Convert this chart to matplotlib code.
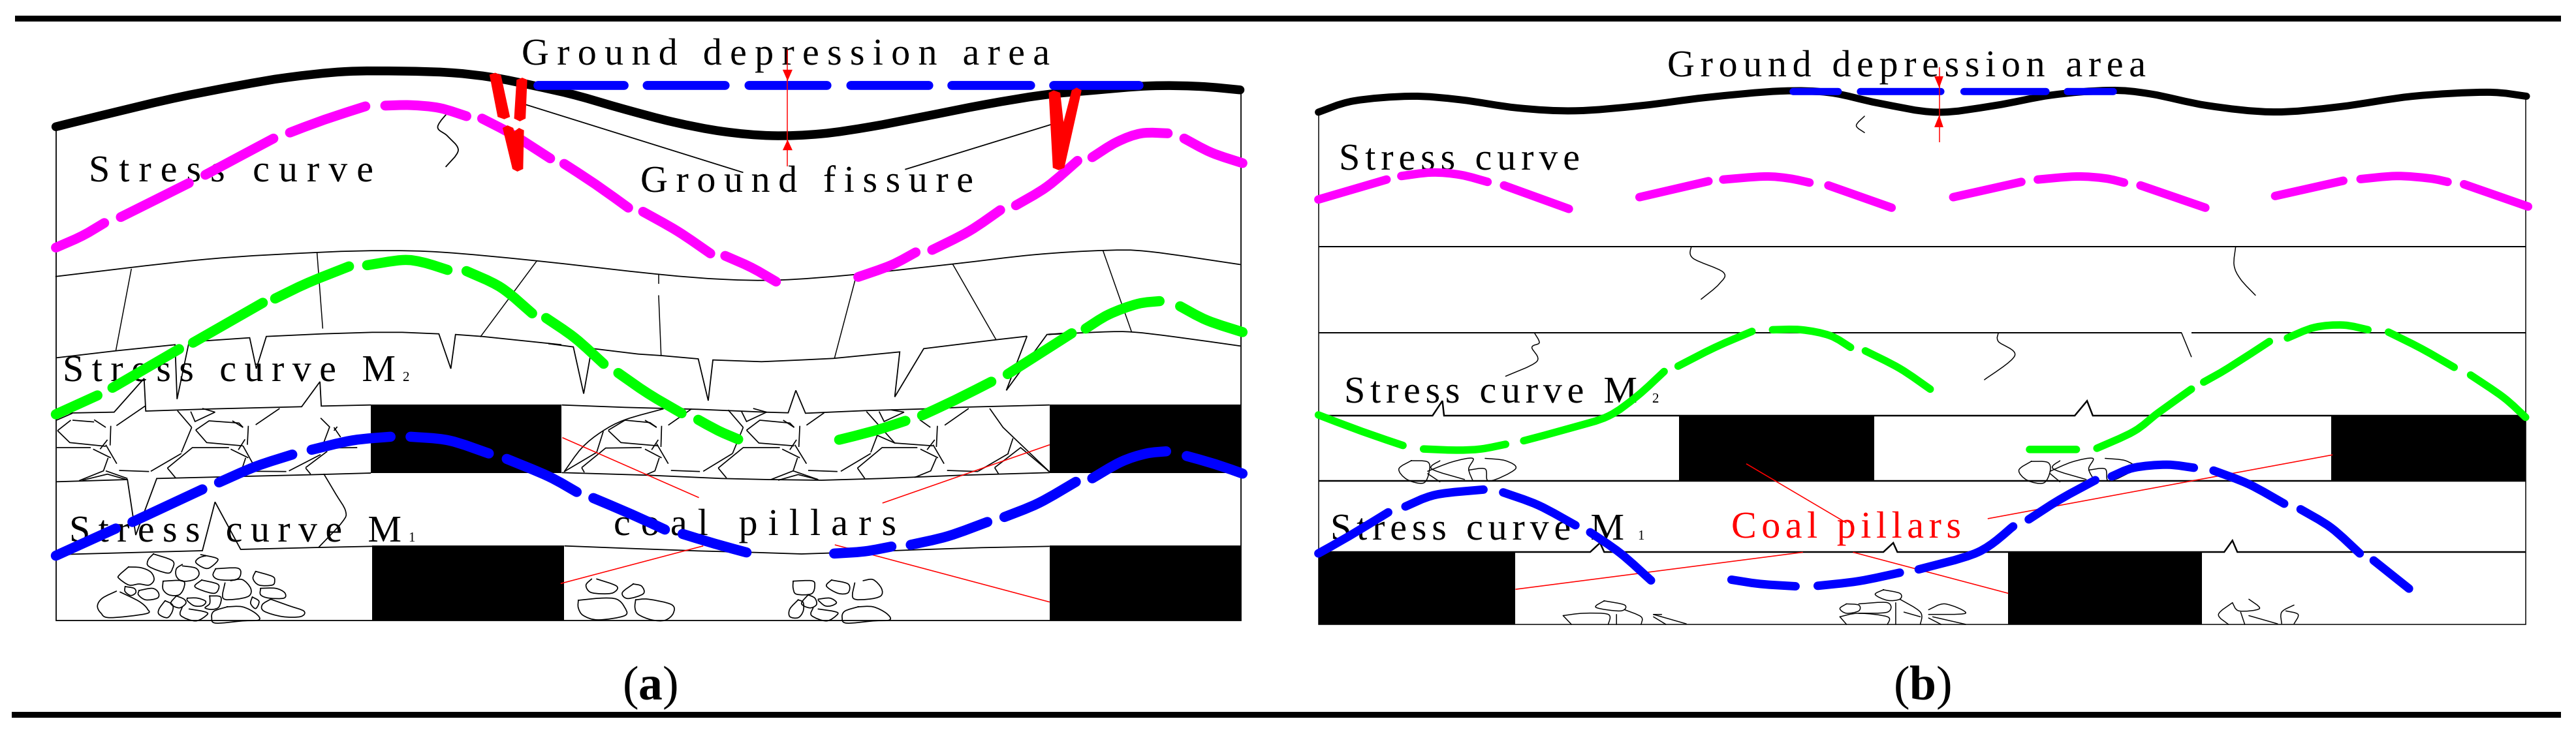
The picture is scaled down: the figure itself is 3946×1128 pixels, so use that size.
#!/usr/bin/env python3
"""Redraw of the two panel ground fissure / stress curve sketch."""

import matplotlib

matplotlib.use("Agg")
import matplotlib.font_manager as fm
import matplotlib.patheffects as pe
import matplotlib.pyplot as plt
import numpy as np
from matplotlib.ft2font import LoadFlags
from matplotlib.patches import PathPatch, Rectangle
from matplotlib.path import Path

# traced outlines are kept in the coordinates of the crop they were read from
# frame = (x origin, y origin, x scale, y scale)
TOP_A = (0, 0, 1.258, 1 / 2.78)
LOW_A = (0, 564, 1.258, 1 / 2.78)
TOP_B = (1973, 0, 1.258, 1 / 2.78)
LOW_B = (1973, 564, 1.258, 1 / 2.78)
ROCK_L = (60, 500, 1 / 1.96, 1 / 3)
ROCK_R = (840, 500, 1 / 1.96, 1 / 3)

BLACK = "#000000"
RED = "#ff0000"
BLUE = "#0000ff"
GREEN = "#00ff00"
MAGENTA = "#ff00ff"
SERIF = "Liberation Serif"

# ---- panel a ----
a_ground = [(68, 540), (120, 495), (210, 420), (290, 365), (350, 330), (420, 305), (490, 303), (550, 310),
            (600, 330), (650, 365), (700, 405), (760, 465), (820, 520), (880, 560), (940, 578), (1000, 570),
            (1060, 540), (1120, 500), (1200, 445), (1270, 405), (1330, 385), (1400, 366), (1460, 368), (1510, 383)]
a_depression = [[(655, 364), (760, 364)], [(788, 364), (883, 364)], [(912, 364), (1007, 364)],
                [(1036, 364), (1131, 364)], [(1159, 364), (1255, 364)], [(1283, 364), (1387, 364)]]
a_fissures = [
    [(596, 318), (603, 310), (610, 320), (621, 498), (614, 508), (606, 498)],
    [(629, 340), (636, 331), (642, 340), (640, 505), (633, 517), (626, 505)],
    [(612, 545), (618, 534), (625, 545), (626, 560), (632, 545), (638, 555), (637, 720), (630, 731), (624, 720)],
    [(1277, 395), (1283, 385), (1291, 395), (1295, 520), (1305, 385), (1311, 373), (1317, 385), (1296, 715),
     (1289, 725), (1282, 715)],
]
a_arrow_line = [(959, 210), (959, 708)]
a_arrow_heads = [[(953, 297), (965, 297), (959, 345)], [(959, 595), (953, 640), (965, 640)]]
a_frame = [(68, 555), (68, 2645), (1511, 2645), (1511, 400)]
a_leaders = [[(635, 440), (905, 735)], [(1285, 525), (1102, 722)]]
a_top_crack = [(548, 468), (533, 540), (545, 580), (558, 640), (543, 710)]
a_layer1 = [(68, 1178), (250, 1105), (390, 1075), (470, 1068), (540, 1075), (650, 1110), (800, 1168), (880, 1190),
            (950, 1193), (1040, 1170), (1160, 1125), (1260, 1085), (1345, 1067), (1400, 1072), (1510, 1127)]
a_layer1_cracks = [[(160, 1145), (141, 1495)], [(386, 1075), (393, 1400)], [(654, 1110), (585, 1435)],
                   [(802, 1168), (802, 1210)], [(802, 1258), (805, 1515)], [(1043, 1170), (1016, 1528)],
                   [(1160, 1125), (1213, 1448)], [(1343, 1067), (1378, 1415)]]
a_layer2_end = [(1277, 1425), (1345, 1414), (1380, 1415), (1430, 1435), (1510, 1474)]

a_left_seams = [
    [(52, 145), (230, 113), (408, 85), (414, 335), (450, 72), (632, 53), (652, 195), (682, 47), (850, 35), (1000, 28),
     (1090, 28), (1200, 35), (1236, 195), (1250, 38), (1330, 47), (1568, 85)],
    [(52, 400), (225, 395), (315, 240), (320, 390), (520, 380), (788, 370), (843, 255), (847, 367), (996, 362)],
    [(52, 715), (265, 705), (290, 960), (353, 700), (810, 683), (996, 675)],
    [(52, 1050), (490, 1032), (528, 808), (605, 1026), (840, 1017), (1000, 1012)],
]
a_long_crack = [(855, 680), (890, 770), (920, 850), (910, 900), (840, 1015)]
a_right_seams = [
    [(0, 80), (75, 95), (106, 310), (130, 102), (270, 128), (340, 135), (450, 150), (480, 342), (494, 155), (640, 163),
     (760, 155), (855, 148), (1055, 118), (1040, 325), (1127, 103), (1345, 62), (1437, 46), (1375, 295), (1497, 38),
     (1568, 30)],
    [(40, 362), (230, 373), (450, 382), (650, 395), (720, 398), (743, 295), (772, 400), (950, 388), (1130, 380),
     (1250, 372), (1505, 362)],
    [(40, 673), (300, 685), (520, 700), (660, 705), (820, 708), (1000, 700), (1240, 685), (1505, 673)],
    [(48, 1010), (250, 1022), (450, 1033), (620, 1040), (760, 1047), (900, 1040), (1100, 1028), (1300, 1018),
     (1505, 1012)],
]
a_left_rubble = [
    [(52, 432), (100, 400)], [(55, 480), (95, 432)], [(100, 432), (165, 440)], [(165, 430), (200, 465)],
    [(215, 458), (213, 548)], [(205, 522), (183, 565)], [(55, 480), (92, 535), (200, 552)], [(52, 558), (155, 558)],
    [(162, 565), (215, 605)], [(200, 545), (233, 632)], [(207, 605), (193, 665), (120, 710)], [(200, 665), (265, 700)],
    [(130, 708), (205, 680), (262, 705)], [(240, 663), (330, 668)], [(335, 667), (427, 585)], [(232, 457), (318, 367)],
    [(427, 580), (458, 465)], [(415, 388), (458, 465)], [(455, 392), (468, 438), (528, 395), (490, 378)],
    [(470, 477), (510, 435), (600, 445), (612, 465)], [(470, 477), (503, 535), (612, 550)], [(580, 435), (612, 465)],
    [(628, 458), (625, 545)], [(618, 520), (598, 568)], [(385, 652), (460, 558), (570, 558)], [(575, 565), (628, 605)],
    [(612, 550), (650, 655)], [(620, 605), (607, 665)], [(385, 652), (410, 698)], [(650, 453), (722, 378)],
    [(650, 667), (742, 668)], [(750, 665), (845, 590)], [(800, 650), (865, 575)], [(845, 422), (872, 463), (852, 545)],
    [(885, 465), (905, 510)], [(885, 480), (895, 462)], [(800, 652), (815, 680)], [(845, 560), (955, 558)],
]
a_right_rubble = [
    [(48, 668), (145, 580), (165, 483)],
    [(100, 650), (172, 560), (280, 558)], [(100, 650), (108, 672)], [(180, 478), (230, 432), (305, 443), (325, 465)],
    [(290, 432), (325, 465)], [(180, 480), (218, 535), (330, 550)], [(340, 458), (338, 555)], [(330, 522), (310, 568)],
    [(290, 565), (340, 605)], [(325, 540), (360, 632)], [(333, 605), (320, 665), (290, 685)], [(368, 663), (455, 668)],
    [(465, 667), (553, 585)], [(360, 455), (430, 380)], [(553, 585), (585, 465)], [(540, 385), (585, 465)],
    [(580, 392), (595, 438), (655, 395), (615, 378)], [(595, 478), (635, 432), (725, 445), (738, 465)],
    [(705, 432), (738, 465)], [(595, 478), (632, 537), (738, 550)], [(755, 458), (752, 555)], [(745, 522), (725, 568)],
    [(702, 565), (755, 605)], [(740, 545), (775, 632)], [(748, 605), (735, 665), (668, 705)],
    [(510, 652), (585, 558), (695, 558)], [(510, 652), (535, 698)], [(775, 455), (828, 398)], [(780, 663), (868, 668)],
    [(878, 667), (968, 585)], [(735, 665), (810, 705)], [(690, 708), (750, 682), (810, 705)], [(968, 580), (988, 500)],
    [(955, 392), (1040, 537)], [(993, 392), (1008, 438), (1068, 395), (1030, 385)], [(985, 500), (1040, 537), (1155, 550)],
    [(1115, 430), (1147, 465)], [(1168, 458), (1165, 555)], [(1160, 522), (1137, 568)], [(1117, 565), (1170, 605)],
    [(1155, 545), (1188, 632)], [(1165, 605), (1148, 665), (1100, 695)], [(928, 652), (1002, 558), (1108, 558)],
    [(928, 652), (950, 700)], [(1190, 455), (1262, 378)], [(1197, 663), (1290, 668)], [(1290, 667), (1382, 585)],
    [(1340, 650), (1418, 558), (1505, 670)], [(1340, 650), (1352, 680)], [(1325, 378), (1365, 465), (1505, 670)],
    [(1395, 515), (1380, 585)],
]
a_right_arc = [(48, 668), (100, 560), (160, 485), (230, 430), (345, 380)]
a_left_rocks = [
    [(232, 1218), (190, 1250), (175, 1285), (185, 1318), (212, 1340), (320, 1322), (325, 1300), (300, 1265), (243, 1222)],
    [(268, 1107), (240, 1145), (240, 1160), (270, 1190), (300, 1185), (330, 1190), (345, 1165), (335, 1130), (305, 1110), (268, 1107)],
    [(343, 1047), (327, 1075), (330, 1105), (385, 1135), (400, 1115), (400, 1078), (343, 1047)],
    [(485, 1050), (530, 1065), (535, 1080), (510, 1112), (490, 1108), (470, 1085), (480, 1065), (500, 1055)],
    [(430, 1095), (412, 1115), (412, 1150), (430, 1172), (465, 1165), (480, 1140), (470, 1112), (430, 1102)],
    [(530, 1115), (595, 1112), (605, 1140), (590, 1165), (540, 1165), (522, 1145), (530, 1115)],
    [(650, 1127), (700, 1150), (707, 1170), (700, 1190), (660, 1190), (642, 1160), (650, 1127)],
    [(372, 1172), (430, 1170), (435, 1200), (420, 1235), (390, 1235), (372, 1210), (372, 1172)],
    [(488, 1167), (535, 1185), (538, 1210), (525, 1228), (490, 1215), (467, 1195), (488, 1167)],
    [(558, 1180), (552, 1250), (590, 1255), (630, 1240), (635, 1205), (610, 1165), (575, 1170)],
    [(258, 1197), (285, 1205), (290, 1225), (275, 1238), (258, 1220), (258, 1197)],
    [(300, 1215), (340, 1205), (358, 1225), (355, 1250), (320, 1258), (298, 1235), (300, 1215)],
    [(665, 1205), (710, 1205), (737, 1225), (735, 1250), (690, 1250), (665, 1235), (665, 1205)],
    [(378, 1262), (360, 1300), (360, 1325), (385, 1340), (400, 1310), (400, 1280), (378, 1262)],
    [(412, 1240), (395, 1275), (420, 1295), (440, 1275), (435, 1255), (412, 1240)],
    [(445, 1250), (475, 1250), (500, 1265), (490, 1285), (465, 1285), (445, 1262), (445, 1250)],
    [(512, 1240), (545, 1245), (540, 1290), (520, 1302), (498, 1295), (512, 1275), (512, 1240)],
    [(640, 1245), (660, 1265), (650, 1298), (635, 1275), (640, 1245)],
    [(695, 1255), (670, 1280), (675, 1310), (730, 1335), (785, 1335), (795, 1310), (750, 1285), (695, 1255)],
    [(430, 1290), (425, 1330), (470, 1355), (505, 1325), (495, 1312), (450, 1300)],
    [(565, 1290), (525, 1310), (518, 1340), (530, 1365), (610, 1355), (660, 1350), (650, 1320), (610, 1290), (565, 1290)],
]
a_right_rocks = [
    [(130, 1162), (113, 1190), (125, 1222), (160, 1230), (195, 1225), (205, 1195), (145, 1162)],
    [(255, 1185), (222, 1225), (238, 1252), (285, 1230), (280, 1195), (255, 1185)],
    [(90, 1260), (160, 1250), (205, 1255), (228, 1290), (230, 1330), (150, 1350), (105, 1330), (90, 1295), (90, 1260)],
    [(262, 1258), (300, 1255), (370, 1280), (375, 1320), (350, 1352), (310, 1350), (270, 1325), (260, 1295), (262, 1258)],
    [(735, 1172), (790, 1170), (800, 1190), (790, 1230), (745, 1232), (735, 1205), (735, 1172)],
    [(850, 1167), (900, 1185), (900, 1225), (870, 1228), (835, 1195), (850, 1167)],
    [(920, 1180), (915, 1250), (960, 1255), (998, 1240), (1000, 1205), (975, 1165), (945, 1170)],
    [(780, 1235), (760, 1275), (785, 1295), (805, 1280), (800, 1250), (780, 1235)],
    [(810, 1255), (845, 1250), (865, 1270), (850, 1285), (830, 1285), (810, 1260)],
    [(750, 1258), (725, 1300), (725, 1335), (750, 1340), (765, 1310), (765, 1270), (750, 1258)],
    [(795, 1295), (790, 1330), (835, 1355), (868, 1325), (860, 1312), (810, 1300)],
    [(930, 1290), (890, 1310), (882, 1340), (895, 1365), (975, 1355), (1025, 1350), (1015, 1320), (975, 1290), (930, 1290)],
]
a_pillar_lines = [[(42, 512), (452, 788)], [(1505, 545), (1003, 813)], [(465, 1010), (37, 1183)], [(860, 1005), (1505, 1268)]]
# x0, x1, y0, y1 in pixels
a_pillars = [(568, 860, 620, 725), (1608, 1901, 620, 725), (570, 864, 836, 951), (1608, 1901, 836, 951)]

a_magenta = [[(68, 1055), (100, 1005), (127, 950)], [(147, 925), (190, 850), (230, 780)], [(250, 745), (290, 670), (333, 590)],
             [(353, 565), (395, 510), (445, 453)], [(469, 450), (500, 448), (535, 460), (568, 495)],
             [(587, 505), (625, 575), (670, 675)], [(687, 698), (725, 785), (765, 885)], [(783, 902), (825, 985), (865, 1080)],
             [(883, 1090), (915, 1140), (945, 1200)], [(1045, 1180), (1085, 1130), (1115, 1075)],
             [(1135, 1065), (1180, 985), (1218, 895)], [(1237, 875), (1275, 795), (1312, 685)],
             [(1330, 670), (1360, 605), (1390, 568), (1422, 568)], [(1442, 590), (1475, 650), (1513, 695)]]
a_green_low = [[(50, 405), (175, 318)], [(220, 283), (420, 105)]]
a_green_top = [[(235, 1460), (320, 1290)], [(335, 1272), (375, 1205), (425, 1135)], [(447, 1130), (490, 1108), (515, 1118), (545, 1150)],
               [(568, 1155), (610, 1225), (648, 1335)], [(665, 1355), (700, 1440), (735, 1550)],
               [(1227, 1594), (1305, 1420)], [(1322, 1400), (1350, 1340), (1385, 1295), (1412, 1283)],
               [(1437, 1305), (1470, 1365), (1513, 1415)]]
a_green_mid = [[(210, 215), (300, 310), (400, 400)], [(450, 430), (510, 480), (570, 520)], [(873, 522), (980, 480), (1072, 435)],
               [(1122, 410), (1220, 340), (1330, 255)]]
a_blue_left = [[(50, 1055), (230, 930)], [(280, 900), (490, 750)], [(540, 718), (650, 645), (760, 590)],
               [(818, 568), (940, 525), (1055, 508)], [(1115, 508), (1230, 525), (1350, 585)]]
a_blue_right = [[(-125, 610), (0, 690), (85, 762)], [(135, 790), (250, 865), (350, 935)], [(403, 955), (500, 1000), (595, 1040)],
                [(858, 1045), (950, 1035), (1030, 1013)], [(1088, 1005), (1200, 965), (1318, 900)]]
a_blue_end = [[(1223, 635), (1265, 575), (1310, 485)], [(1330, 470), (1365, 400), (1395, 365), (1420, 355)],
              [(1445, 375), (1480, 410), (1513, 450)]]

# ---- panel b ----
b_ground = [(37, 478), (80, 430), (150, 410), (210, 425), (280, 460), (350, 472), (430, 450), (510, 415), (600, 388),
            (660, 395), (720, 440), (790, 478), (860, 450), (930, 405), (1000, 385), (1050, 400), (1120, 450), (1200, 477),
            (1280, 455), (1370, 410), (1460, 393), (1508, 410)]
b_depression = [[(615, 390), (670, 390)], [(697, 390), (795, 390)], [(823, 390), (923, 390)], [(949, 390), (1005, 390)]]
b_arrow_line = [(793, 285), (793, 605)]
b_arrow_heads = [[(787, 325), (798, 325), (793, 375)], [(793, 490), (787, 542), (798, 542)]]
b_frame = [(37, 485), (37, 2660), (1507, 2660), (1507, 420)]
b_flat_lines = [[(37, 1050), (1507, 1050)], [(37, 1417), (1088, 1417)], [(1100, 1417), (1507, 1417)]]
b_cracks = [[(702, 495), (692, 535), (702, 565)], [(491, 1050), (493, 1100), (530, 1160), (525, 1210), (503, 1275)],
            [(1154, 1050), (1152, 1130), (1160, 1190), (1178, 1258)], [(300, 1418), (306, 1460), (297, 1480), (303, 1540), (265, 1603)],
            [(865, 1418), (865, 1455), (885, 1515), (848, 1618)], [(1088, 1418), (1100, 1520)]]
b_seams = [[(37, 203), (176, 203), (188, 140), (190, 203), (958, 203), (973, 140), (980, 203), (1507, 203)],
           [(37, 482), (1507, 482)],
           [(37, 784), (368, 784), (380, 745), (385, 784), (725, 784), (737, 745), (742, 784), (1140, 784), (1150, 735), (1156, 784), (1507, 784)]]
# x0, x1, y0, y1 in the lower b crop
b_pillars = [(476, 714, 203, 482), (1270, 1507, 203, 482), (37, 277, 784, 1092), (877, 1113, 784, 1092)]
b_magenta = [[(37, 850), (120, 765)], [(138, 750), (175, 735), (210, 745), (243, 775)], [(263, 790), (342, 890)],
             [(428, 840), (512, 772)], [(530, 765), (580, 752), (610, 760), (635, 778)], [(658, 790), (735, 885)],
             [(810, 840), (893, 775)], [(913, 765), (960, 752), (995, 760), (1018, 778)], [(1038, 790), (1117, 885)],
             [(1202, 835), (1285, 770)], [(1306, 763), (1350, 750), (1390, 760), (1412, 775)], [(1432, 785), (1510, 880)]]
b_green_low = [[(37, 200), (90, 270), (140, 330)], [(165, 345), (205, 350), (235, 345), (265, 325)],
               [(287, 310), (345, 255), (390, 205), (425, 120), (458, 15)], [(903, 347), (960, 347)],
               [(985, 342), (1030, 270), (1060, 190), (1100, 90)], [(1115, 60), (1145, 0), (1195, -113)],
               [(1440, 30), (1480, 125), (1507, 210)]]
b_green_top = [[(475, 1560), (520, 1480), (565, 1412)], [(590, 1405), (625, 1405), (660, 1430), (685, 1480)],
               [(703, 1495), (745, 1570), (782, 1658)], [(1217, 1440), (1250, 1395), (1285, 1385), (1315, 1405)],
               [(1340, 1415), (1380, 1485), (1420, 1565)]]
b_blue = [[(37, 790), (75, 715), (122, 615)], [(143, 590), (180, 540), (238, 518)], [(262, 530), (305, 585), (350, 670)],
          [(368, 700), (405, 790), (442, 905)], [(540, 902), (575, 920), (618, 930)], [(645, 928), (695, 908), (745, 872)],
          [(768, 858), (840, 785), (883, 675)], [(902, 645), (940, 560), (983, 478)], [(1003, 462), (1030, 425), (1070, 412), (1103, 425)],
          [(1127, 437), (1170, 495), (1213, 578)], [(1233, 602), (1270, 680), (1305, 790)], [(1322, 820), (1365, 940)]]
b_pillar_lines = [[(558, 408), (680, 660)], [(1272, 370), (852, 642)], [(627, 785), (277, 943)], [(688, 785), (877, 960)]]
b_rubble = [
    [(150, 395), (135, 430), (145, 475), (165, 490), (172, 440), (170, 400), (150, 395)],
    [(170, 440), (200, 400), (225, 385), (220, 430), (225, 480)], [(185, 395), (175, 430), (215, 475)],
    [(240, 385), (265, 395), (277, 430), (245, 482), (240, 430), (220, 435)], [(170, 450), (185, 485)],
    [(905, 398), (890, 435), (900, 478), (920, 490), (928, 440), (925, 402), (905, 398)],
    [(928, 440), (955, 400), (980, 385), (975, 430), (982, 480)], [(940, 395), (932, 430), (972, 475)],
    [(995, 385), (1020, 395), (1030, 430), (1000, 482), (995, 430), (975, 435)], [(928, 450), (940, 485)],
    [(385, 992), (375, 1020), (405, 1035), (410, 1010), (385, 992)], [(335, 1055), (345, 1092)],
    [(335, 1055), (360, 1045), (390, 1050), (390, 1092)], [(410, 1030), (430, 1060), (430, 1092)], [(400, 1050), (400, 1092)],
    [(445, 1050), (485, 1090)], [(445, 1060), (460, 1092)], [(445, 1050), (455, 1050)],
    [(725, 945), (715, 965), (730, 990), (745, 985), (745, 960), (725, 945)],
    [(680, 1005), (672, 1025), (680, 1045), (695, 1035), (695, 1010), (680, 1005)],
    [(695, 1005), (730, 1000), (730, 1040), (695, 1045)], [(745, 985), (770, 1040), (770, 1092)], [(740, 1000), (740, 1092)],
    [(780, 1030), (800, 1005), (825, 1045), (780, 1050)], [(672, 1060), (695, 1045), (730, 1060), (730, 1092)],
    [(672, 1060), (680, 1092)], [(750, 1040), (770, 1060)], [(785, 1060), (825, 1092)], [(780, 1065), (795, 1092)],
    [(1150, 1000), (1133, 1050), (1145, 1092)], [(1170, 985), (1183, 1025), (1158, 1035), (1150, 1000)],
    [(1160, 1040), (1165, 1092)], [(1170, 1055), (1205, 1090)], [(1225, 1010), (1210, 1040), (1210, 1090)],
    [(1215, 1035), (1230, 1050), (1225, 1090)],
]

# x, baseline, text, width, colour (pixels)
labels = [
    (799, 99, "Ground depression area", 809, BLACK),
    (136, 278, "Stress curve", 436, BLACK),
    (981, 294, "Ground fissure", 510, BLACK),
    (96, 584, "Stress curve M", 510, BLACK),
    (106, 830, "Stress curve M", 509, BLACK),
    (940, 820, "coal pillars", 433, BLACK),
    (2554, 117, "Ground depression area", 733, BLACK),
    (2051, 260, "Stress curve", 369, BLACK),
    (2059, 617, "Stress curve M", 449, BLACK),
    (2038, 827, "Stress curve M", 450, BLACK),
    (2652, 824, "Coal pillars", 352, RED),
]
LABEL_PT = 41.8
subscripts = [(616, 584, "2"), (625, 830, "1"), (2530, 617, "2"), (2508, 827, "1")]
panel_tags = [(995, 1072, "a"), (2944, 1072, "b")]


class Tracking(pe.AbstractPathEffect):
    """Spread the glyphs of a text, the sketch has wide letter spacing."""

    def __init__(self, text, width_px):
        super().__init__()
        font = fm.get_font(fm.findfont(SERIF))
        font.set_size(100, 72)
        adv = [font.load_char(ord(c), flags=LoadFlags.NO_HINTING).linearHoriAdvance / 65536 for c in text]
        # text paths come in units of 1/100 em
        wanted = width_px / (LABEL_PT * 100 / 72) * 100
        self.extra = (wanted - sum(adv)) / (len(text) - 1)
        self.edges = np.cumsum(adv)

    def draw_path(self, renderer, gc, tpath, affine, rgbFace=None):
        verts = tpath.vertices.copy()
        starts = list(np.where(tpath.codes == Path.MOVETO)[0]) + [len(verts)]
        for s, e in zip(starts[:-1], starts[1:]):
            mid = verts[s:e, 0].mean()
            verts[s:e, 0] += self.extra * np.searchsorted(self.edges, mid)
        renderer.draw_path(gc, Path(verts, tpath.codes), affine, rgbFace)


def px(points, frame):
    x0, y0, sx, sy = frame
    return [(x0 + x * sx, y0 + y * sy) for x, y in points]


def smooth(points):
    """Catmull-Rom through the traced points, as bezier path."""
    verts = [points[0]]
    codes = [Path.MOVETO]
    n = len(points)
    for i in range(n - 1):
        p0 = points[max(i - 1, 0)]
        p1 = points[i]
        p2 = points[i + 1]
        p3 = points[min(i + 2, n - 1)]
        verts.append((p1[0] + (p2[0] - p0[0]) / 6, p1[1] + (p2[1] - p0[1]) / 6))
        verts.append((p2[0] - (p3[0] - p1[0]) / 6, p2[1] - (p3[1] - p1[1]) / 6))
        verts.append(p2)
        codes += [Path.CURVE4] * 3
    return Path(verts, codes)


def curves(ax, groups, frame, color, width, z=5):
    # width is in pixels, figure is at dpi 100
    for points in groups:
        ax.add_patch(PathPatch(smooth(px(points, frame)), fill=False, edgecolor=color, linewidth=width * 0.72,
                               capstyle="round", joinstyle="round", zorder=z))


def lines(ax, groups, frame, color=BLACK, width=1.8, z=2):
    for points in groups:
        pts = px(points, frame)
        ax.plot([p[0] for p in pts], [p[1] for p in pts], color=color, linewidth=width * 0.72,
                solid_capstyle="butt", solid_joinstyle="miter", zorder=z)


def fills(ax, groups, frame, color=RED, z=7):
    for points in groups:
        pts = px(points, frame)
        ax.fill([p[0] for p in pts], [p[1] for p in pts], color=color, linewidth=0, zorder=z)


def main():
    plt.rcParams["mathtext.fontset"] = "custom"
    plt.rcParams["mathtext.rm"] = SERIF
    plt.rcParams["mathtext.bf"] = SERIF + ":bold"

    fig = plt.figure(figsize=(39.46, 11.28), dpi=100, facecolor="white")
    ax = fig.add_axes([0, 0, 1, 1])
    ax.set_xlim(0, 3946)
    ax.set_ylim(1128, 0)
    ax.axis("off")

    ax.add_patch(Rectangle((23, 24), 3900, 9, color=BLACK, linewidth=0))
    ax.add_patch(Rectangle((18, 1091), 3905, 9, color=BLACK, linewidth=0))

    for x0, x1, y0, y1 in a_pillars:
        ax.add_patch(Rectangle((x0, y0), x1 - x0, y1 - y0, color=BLACK, linewidth=0, zorder=1))
    for x0, x1, y0, y1 in b_pillars:
        ax.add_patch(Rectangle(px([(x0, y0)], LOW_B)[0], (x1 - x0) * 1.258, (y1 - y0) / 2.78,
                               color=BLACK, linewidth=0, zorder=1))

    # panel a
    lines(ax, [a_frame], TOP_A)
    lines(ax, a_leaders, TOP_A)
    curves(ax, [a_top_crack, a_layer1, a_layer2_end], TOP_A, BLACK, 1.8, z=2)
    lines(ax, a_layer1_cracks, TOP_A, width=1.5)
    lines(ax, a_left_seams, ROCK_L)
    lines(ax, a_right_seams, ROCK_R)
    curves(ax, [a_long_crack], ROCK_L, BLACK, 1.7, z=2)
    curves(ax, [a_right_arc], ROCK_R, BLACK, 1.7, z=2)
    lines(ax, a_left_rubble, ROCK_L, width=1.7)
    lines(ax, a_right_rubble, ROCK_R, width=1.7)
    curves(ax, a_left_rocks, ROCK_L, BLACK, 1.7, z=2)
    curves(ax, a_right_rocks, ROCK_R, BLACK, 1.7, z=2)
    lines(ax, a_pillar_lines, ROCK_R, color=RED, width=1.6, z=3)

    curves(ax, [a_ground], TOP_A, BLACK, 13.5, z=4)
    curves(ax, a_depression, TOP_A, BLUE, 13.7)
    curves(ax, a_magenta, TOP_A, MAGENTA, 15)
    curves(ax, a_green_top, TOP_A, GREEN, 15.5)
    curves(ax, a_green_low, ROCK_L, GREEN, 15.5)
    curves(ax, a_green_mid, ROCK_R, GREEN, 15.5)
    curves(ax, a_blue_left, ROCK_L, BLUE, 15.5)
    curves(ax, a_blue_right, ROCK_R, BLUE, 15.5)
    curves(ax, a_blue_end, LOW_A, BLUE, 15.5)
    fills(ax, a_fissures, TOP_A)
    lines(ax, [a_arrow_line], TOP_A, color=RED, width=1.5, z=7)
    fills(ax, a_arrow_heads, TOP_A)

    # panel b
    lines(ax, [b_frame], TOP_B, width=1.5)
    lines(ax, b_flat_lines, TOP_B, width=2)
    curves(ax, b_cracks, TOP_B, BLACK, 1.5, z=2)
    lines(ax, b_seams, LOW_B, width=2.5)
    curves(ax, b_rubble, LOW_B, BLACK, 1.5, z=2)
    lines(ax, b_pillar_lines, LOW_B, color=RED, width=1.6, z=3)

    curves(ax, [b_ground], TOP_B, BLACK, 11, z=4)
    curves(ax, b_depression, TOP_B, BLUE, 11)
    curves(ax, b_magenta, TOP_B, MAGENTA, 13)
    curves(ax, b_green_low, LOW_B, GREEN, 11.5)
    curves(ax, b_green_top, TOP_B, GREEN, 11.5)
    curves(ax, b_blue, LOW_B, BLUE, 13)
    lines(ax, [b_arrow_line], TOP_B, color=RED, width=1.5, z=7)
    fills(ax, b_arrow_heads, TOP_B)

    for x, y, text, width, color in labels:
        ax.text(x, y, text, fontsize=LABEL_PT, color=color, family=SERIF, va="baseline", ha="left", zorder=3,
                path_effects=[Tracking(text, width)])
    for x, y, text in subscripts:
        ax.text(x, y, text, fontsize=15, color=BLACK, family=SERIF, va="baseline", ha="left", zorder=3)
    for x, y, tag in panel_tags:
        ax.text(x, y, r"($\mathbf{" + tag + "}$)", fontsize=53, color=BLACK, family=SERIF,
                va="baseline", ha="center")

    fig.savefig("out.png", dpi=100, facecolor="white")
    plt.close(fig)


if __name__ == "__main__":
    main()
